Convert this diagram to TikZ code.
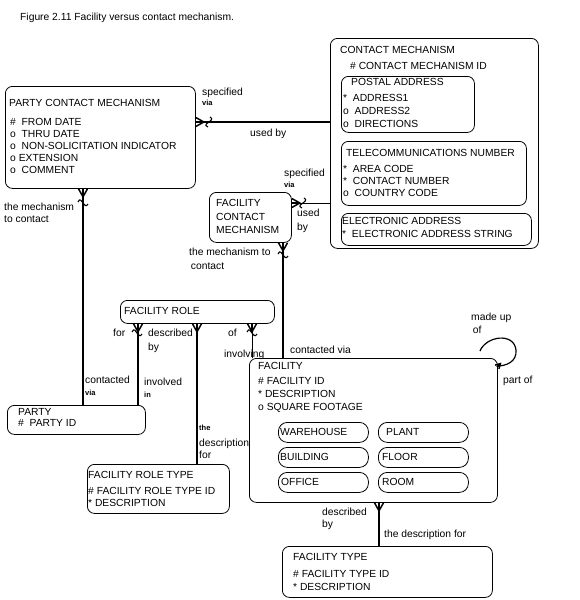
\documentclass[tikz,border=0pt]{standalone}
\usepackage{fontspec}
\setmainfont{Liberation Sans}
\tikzset{
  box/.style={draw, line width=0.8pt, rounded corners=7pt, inner sep=0pt, anchor=north west},
  sub/.style={box, rounded corners=9pt, minimum width=90pt, minimum height=20pt},
  txt/.style={font=\fontsize{10.3}{12}\selectfont, inner sep=0pt, anchor=north west, align=left},
  subtxt/.style={txt, anchor=west},
  tiny/.style={font=\fontsize{7.5}{8}\selectfont\bfseries, inner sep=0pt, anchor=north west},
  heavy/.style={line width=2.6pt},
  light/.style={line width=0.9pt},
  crow/.pic={\draw[line width=1.5pt] (-4.5,0) -- (0,8) -- (4.5,0); \draw[line width=1.5pt] (0,0) -- (0,8);},
  opt/.pic={\draw[line width=1.1pt] (-5,-1) .. controls (-3,-6) and (-1,-1) .. (0,0) .. controls (1,1) and (3,5) .. (5,1);}
}
\begin{document}
\begin{tikzpicture}[x=1pt,y=-1pt]
      \useasboundingbox[fill=white] (0,0) rectangle (579,600);
      \node[txt] (fig) at (20,13.3) {Figure 2.11 Facility versus contact mechanism.};

      % entities
      \node[box, minimum width=190pt, minimum height=102pt] (pcm) at (5,86) {};
      \node[txt] (pcm-t) at (9,99) {PARTY CONTACT MECHANISM};
      \node[txt] (pcm-a) at (10,118) {\#\ \ FROM DATE\\o\ \ THRU DATE\\o\ \ NON-SOLICITATION INDICATOR\\o EXTENSION\\o\ \ COMMENT};

      \node[box, minimum width=208pt, minimum height=210pt] (cm) at (330,38) {};
      \node[txt] (cm-t) at (340,46.3) {CONTACT MECHANISM};
      \node[txt] (cm-id) at (350,62.3) {\# CONTACT MECHANISM ID};
      \node[box, minimum width=133pt, minimum height=56pt] (postal) at (341,76) {};
      \node[txt] (postal-t) at (351,78.3) {POSTAL ADDRESS};
      \node[txt] (postal-a) at (343,94.3) {*\ \ ADDRESS1\\[1pt]o\ \ ADDRESS2\\[1pt]o\ \ DIRECTIONS};
      \node[box, minimum width=185pt, minimum height=64pt] (telecom) at (341,141) {};
      \node[txt] (telecom-t) at (346,149.3) {TELECOMMUNICATIONS NUMBER};
      \node[txt] (telecom-a) at (343,165.3) {*\ \ AREA CODE\\*\ \ CONTACT NUMBER\\o\ \ COUNTRY CODE};
      \node[box, minimum width=190pt, minimum height=32pt] (email) at (341,213) {};
      \node[txt] (email-t) at (342,217.3) {ELECTRONIC ADDRESS\\[1pt]*\ \ ELECTRONIC ADDRESS STRING};

      \node[box, minimum width=82pt, minimum height=50pt] (fcm) at (209,192) {};
      \node[txt] (fcm-t) at (216,199.3) {FACILITY\\[1.5pt]CONTACT\\[1.5pt]MECHANISM};

      \node[box, minimum width=154pt, minimum height=23pt] (fr) at (120,300) {};
      \node[txt] (fr-t) at (124,307.3) {FACILITY ROLE};

      \node[box, minimum width=138pt, minimum height=29pt] (party) at (7,405) {};
      \node[txt] (party-t) at (18,408.5) {PARTY\\[-1pt]\#\ \ PARTY ID};

      \node[box, minimum width=142pt, minimum height=49pt] (frt) at (87,464) {};
      \node[txt] (frt-t) at (88,471.3) {FACILITY ROLE TYPE\\[4pt]\# FACILITY ROLE TYPE ID\\* DESCRIPTION};

      \node[box, minimum width=248pt, minimum height=144pt] (fac) at (249,358) {};
      \node[txt] (fac-t) at (258,362.3) {FACILITY\\[3pt]\# FACILITY ID\\[1pt]* DESCRIPTION\\[1pt]o SQUARE FOOTAGE};
      \node[sub] (wh) at (278,422) {};
      \node[sub] (plant) at (378,422) {};
      \node[sub] (bldg) at (278,447) {};
      \node[sub] (floor) at (378,447) {};
      \node[sub] (office) at (278,472) {};
      \node[sub] (room) at (378,472) {};
      \node[subtxt] (wh-t) at ([xshift=2pt]wh.west) {WAREHOUSE};
      \node[subtxt] (plant-t) at ([xshift=8pt]plant.west) {PLANT};
      \node[subtxt] (bldg-t) at ([xshift=2pt]bldg.west) {BUILDING};
      \node[subtxt] (floor-t) at ([xshift=4pt]floor.west) {FLOOR};
      \node[subtxt] (office-t) at ([xshift=3pt]office.west) {OFFICE};
      \node[subtxt] (room-t) at ([xshift=4pt]room.west) {ROOM};

      \node[box, minimum width=210pt, minimum height=51pt] (ft) at (282,546) {};
      \node[txt] (ft-t) at (293,553.3) {FACILITY TYPE\\[5pt]\# FACILITY TYPE ID\\[1pt]* DESCRIPTION};

      % relationships
      \draw[heavy] (pcm.east |- 0,122) -- (cm.west |- 0,122);
      \pic[rotate=90] at (pcm.east |- 0,122) {crow};
      \pic[rotate=90] at (209,122) {opt};
      \draw[light] (fcm.east |- 0,203) -- (cm.west |- 0,203);
      \pic[rotate=90] at (fcm.east |- 0,203) {crow};
      \pic[rotate=90] at (303,203) {opt};
      \draw[heavy] (pcm.south -| 83,0) -- (party.north -| 83,0);
      \pic at (pcm.south -| 83,0) {crow};
      \pic at (83,203) {opt};
      \draw[heavy] (fcm.south -| 283,0) -- (fac.north -| 283,0);
      \pic at (fcm.south -| 283,0) {crow};
      \pic at (283,255) {opt};
      \draw[heavy] (fr.south -| 138,0) -- (party.north -| 138,0);
      \pic at (fr.south -| 138,0) {crow};
      \pic at (137,333) {opt};
      \draw[heavy] (fr.south -| 197,0) -- (frt.north -| 197,0);
      \pic at (fr.south -| 197,0) {crow};
      \draw[light] (fr.south -| 252,0) -- (fac.north -| 252,0);
      \pic at (fr.south -| 252,0) {crow};
      \pic at (252,333) {opt};
      \draw[heavy] (fac.south -| 379,0) -- (ft.north -| 379,0);
      \pic at (fac.south -| 379,0) {crow};
      \draw[line width=1.2pt] (480,351) .. controls (486,336) and (514,332) .. (516,350)
        .. controls (517,362) and (506,366) .. (497,366);
      \pic[rotate=135, scale=0.6] at (497,367) {crow};

      % relationship labels
      \node[txt] (l-spec1) at (202,88.3) {specified};
      \node[tiny] (l-via1) at (202,100) {via};
      \node[txt] (l-used1) at (250,129.3) {used by};
      \node[txt] (l-spec2) at (284,169.3) {specified};
      \node[tiny] (l-via2) at (284,182) {via};
      \node[txt] (l-used2) at (297,209.3) {used\\[2pt]by};
      \node[txt] (l-mech2) at (189,248.3) {the mechanism to\\[2pt]\,contact};
      \node[txt] (l-mech1) at (4,203.3) {the mechanism\\to contact};
      \node[txt] (l-cont1) at (85,376.3) {contacted};
      \node[tiny] (l-via3) at (85,390) {via};
      \node[txt] (l-inv) at (144,378.3) {involved};
      \node[tiny] (l-in) at (144,392) {in};
      \node[txt] (l-for) at (113,329.3) {for};
      \node[txt] (l-descr1) at (148,329.3) {described\\[2pt]by};
      \node[txt] (l-of) at (228,329.3) {of};
      \node[txt] (l-involving) at (224,350.3) {involving};
      \node[tiny] (l-the) at (199,425) {the};
      \node[txt] (l-descfor1) at (199,439) {description\\for};
      \node[txt] (l-cont2) at (290,346.3) {contacted via};
      \node[txt] (l-made) at (471,313.3) {made up\\[1pt]\,of};
      \node[txt] (l-part) at (503,376.3) {part of};
      \node[txt] (l-descr2) at (322,508.3) {described\\by};
      \node[txt] (l-descfor2) at (384,530.3) {the description for};
\end{tikzpicture}
\end{document}
